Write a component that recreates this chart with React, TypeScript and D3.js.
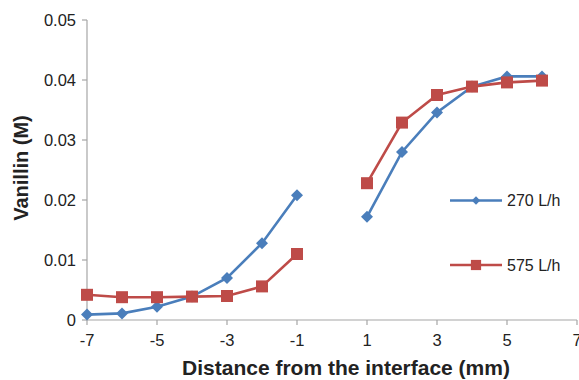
import React from "react";
import * as d3 from "d3";

const distances = [-7, -6, -5, -4, -3, -2, -1, 1, 2, 3, 4, 5, 6];
const flow270 = [0.0009, 0.0011, 0.0022, 0.0039, 0.007, 0.0128, 0.0208, 0.0172, 0.028, 0.0346, 0.0389, 0.0406, 0.0406];
const flow575 = [0.0042, 0.0038, 0.0038, 0.0039, 0.004, 0.0056, 0.011, 0.0228, 0.0329, 0.0375, 0.0389, 0.0396, 0.0399];
const xTicks = [-7, -5, -3, -1, 1, 3, 5, 7];
const yTicks = [0, 0.01, 0.02, 0.03, 0.04, 0.05];
const seriesNames = ["270 L/h", "575 L/h"];

const W = 579;
const H = 380;
const BLUE = "#4a7ebb";
const RED = "#be4b48";
const AXIS = "#a6a6a6";
const FONT = "'Liberation Sans', Arial, sans-serif";

export default function App() {
  const x = d3.scaleLinear().domain([-7, 7]).range([87, 577]);
  const y = d3.scaleLinear().domain([0, 0.05]).range([320, 20]);
  const line = d3
    .line<[number, number]>()
    .x((d) => x(d[0]))
    .y((d) => y(d[1]));

  const series = [
    { name: seriesNames[0], values: flow270, color: BLUE, marker: "diamond" },
    { name: seriesNames[1], values: flow575, color: RED, marker: "square" },
  ];

  const diamond = (cx: number, cy: number, r: number) =>
    `M${cx},${cy - r}L${cx + r},${cy}L${cx},${cy + r}L${cx - r},${cy}Z`;

  const marker = (kind: string, cx: number, cy: number, color: string, key: string, s = 1) =>
    kind === "diamond" ? (
      <path key={key} d={diamond(cx, cy, 6 * s)} fill={color} />
    ) : (
      <rect key={key} x={cx - 6 * s} y={cy - 6 * s} width={12 * s} height={12 * s} fill={color} />
    );

  const legendY = [200.5, 265];

  return (
    <svg width={W} height={H} style={{ position: "absolute", left: 0, top: 0, background: "#fff" }}>
      {/* axes */}
      <line x1={x(-7)} x2={x(-7)} y1={y(0.05)} y2={y(0)} stroke={AXIS} strokeWidth={1.2} />
      <line x1={x(-7)} x2={x(7)} y1={y(0)} y2={y(0)} stroke={AXIS} strokeWidth={1.2} />
      {yTicks.map((t) => (
        <g key={"y" + t}>
          <line x1={x(-7) - 5} x2={x(-7)} y1={y(t)} y2={y(t)} stroke={AXIS} strokeWidth={1.2} />
          <text x={76} y={y(t)} dy="0.35em" textAnchor="end" fontFamily={FONT} fontSize={16.5} fill="#222">
            {t === 0 ? "0" : d3.format(".2f")(t)}
          </text>
        </g>
      ))}
      {xTicks.map((t) => (
        <g key={"x" + t}>
          <line x1={x(t)} x2={x(t)} y1={y(0)} y2={y(0) + 5} stroke={AXIS} strokeWidth={1.2} />
          <text x={x(t)} y={340} dy="0.35em" textAnchor="middle" fontFamily={FONT} fontSize={16.5} fill="#222">
            {t}
          </text>
        </g>
      ))}
      {/* series */}
      {series.map((s) => {
        const pts: [number, number][] = distances.map((d, i) => [d, s.values[i]]);
        const left = pts.filter((p) => p[0] < 0);
        const right = pts.filter((p) => p[0] > 0);
        return (
          <g key={s.name}>
            <path d={line(left) || ""} fill="none" stroke={s.color} strokeWidth={2.6} />
            <path d={line(right) || ""} fill="none" stroke={s.color} strokeWidth={2.6} />
            {pts.map((p, i) => marker(s.marker, x(p[0]), y(p[1]), s.color, s.name + i))}
          </g>
        );
      })}
      {/* legend */}
      {series.map((s, i) => (
        <g key={"leg" + i}>
          <line x1={450} x2={502} y1={legendY[i]} y2={legendY[i]} stroke={s.color} strokeWidth={2.6} />
          {marker(s.marker, 476, legendY[i], s.color, "lm" + i, s.marker === "diamond" ? 0.7 : 0.85)}
          <text x={507} y={legendY[i]} dy="0.35em" fontFamily={FONT} fontSize={16} fill="#222">
            {s.name}
          </text>
        </g>
      ))}
      {/* titles */}
      <text
        x={346}
        y={368}
        dy="0.35em"
        textAnchor="middle"
        fontFamily={FONT}
        fontSize={21}
        fontWeight="bold"
        fill="#222"
      >
        Distance from the interface (mm)
      </text>
      <text
        transform={`translate(21,168) rotate(-90)`}
        dy="0.35em"
        textAnchor="middle"
        fontFamily={FONT}
        fontSize={20}
        fontWeight="bold"
        fill="#222"
      >
        Vanillin (M)
      </text>
    </svg>
  );
}
